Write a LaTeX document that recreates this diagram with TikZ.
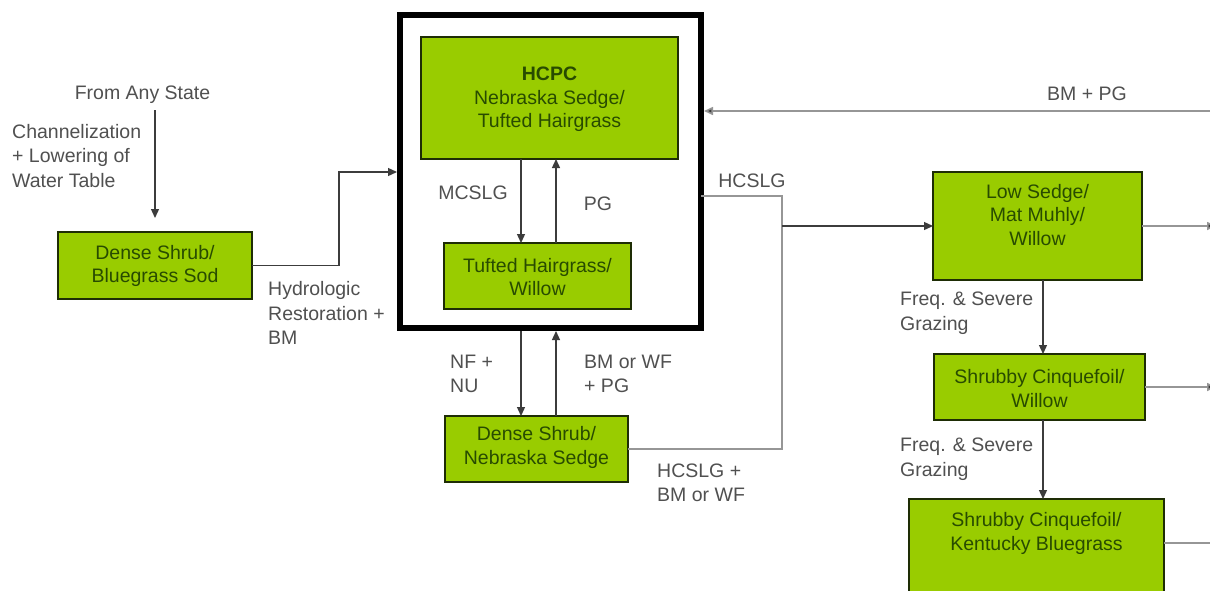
\documentclass[tikz,border=0pt]{standalone}
\usepackage{fontspec}
\setmainfont{Liberation Sans}
\usetikzlibrary{arrows.meta}
\definecolor{boxgreen}{RGB}{153,204,0}
\definecolor{boxline}{RGB}{30,45,5}
\definecolor{boxtext}{RGB}{40,75,0}
\definecolor{lblgray}{RGB}{80,80,80}
\definecolor{lightline}{RGB}{150,150,150}
\definecolor{darkline}{RGB}{60,60,60}
\tikzset{
  statebox/.style={draw=boxline, line width=2.4pt, fill=boxgreen, inner sep=0pt, outer sep=0pt},
  boxtxt/.style={text=boxtext, font=\fontsize{19.5}{23.5}\selectfont, align=center, inner sep=0pt},
  lbl/.style={text=lblgray, font=\fontsize{19.5}{24.5}\selectfont, align=left, inner sep=0pt},
  arr/.style={draw=darkline, line width=1.3pt, -{Triangle[length=9pt,width=8pt]}},
  gline/.style={draw=lightline, line width=1.6pt},
  garr/.style={draw=lightline, line width=1.6pt, -{Triangle[length=9pt,width=8pt,fill=darkline]}},
}
\begin{document}
\begin{tikzpicture}[x=1pt,y=-1pt]
\useasboundingbox (0,0) rectangle (1210,590);
\fill[white] (0,0) rectangle (1210,590);

% big frame
\node[draw=black, line width=6pt, minimum width=301pt, minimum height=313pt, inner sep=0pt, outer sep=0pt] (big) at (550.5,171.5) {};

% states
\node[statebox, minimum width=257pt, minimum height=122pt] (hcpc) at (549.5,98) {};
\node[boxtxt] (hcpct) at (549.5,99.5) {\textbf{HCPC}\\Nebraska Sedge/\\Tufted Hairgrass};
\node[statebox, minimum width=187pt, minimum height=66pt] (thw) at (537.5,276) {};
\node[boxtxt] (thwt) at (537.5,277) {Tufted Hairgrass/\\Willow};
\node[statebox, minimum width=194pt, minimum height=67pt] (dsb) at (155,265.5) {};
\node[boxtxt] (dsbt) at (155,266) {Dense Shrub/\\Bluegrass Sod};
\node[statebox, minimum width=183pt, minimum height=66pt] (dsn) at (536.5,449) {};
\node[boxtxt] (dsnt) at (536.5,447.5) {Dense Shrub/\\Nebraska Sedge};
\node[statebox, minimum width=209pt, minimum height=108pt] (ls) at (1037.5,226) {};
\node[boxtxt] (lst) at (1037.5,215) {Low Sedge/\\Mat Muhly/\\Willow};
\node[statebox, minimum width=211pt, minimum height=66pt] (scw) at (1039.5,387) {};
\node[boxtxt] (scwt) at (1039.5,388.5) {Shrubby Cinquefoil/\\Willow};
\node[statebox, minimum width=255pt, minimum height=122pt] (sck) at (1036.5,560) {};
\node[boxtxt] (sckt) at (1036.5,533.5) {Shrubby Cinquefoil/\\Kentucky Bluegrass};

% labels
\node[lbl] (fas) at (142.5,95) {From Any State};
\node[lbl, anchor=west] (chan) at (12,156) {Channelization\\+ Lowering of\\Water Table};
\node[lbl, anchor=west] (hydro) at (268,313) {Hydrologic\\Restoration +\\BM};
\node[lbl] (mcslg) at (473,193) {MCSLG};
\node[lbl] (pg) at (598,204) {PG};
\node[lbl] (hcslg) at (752,181) {HCSLG};
\node[lbl] (bmpg) at (1087,94) {BM + PG};
\node[lbl, anchor=west] (nfnu) at (450,374) {NF +\\NU};
\node[lbl, anchor=west] (bmwf) at (584,374) {BM or WF\\+ PG};
\node[lbl, anchor=west] (hcbm) at (657,483) {HCSLG +\\BM or WF};
\node[lbl, anchor=west] (fsg1) at (900,313) {Freq. \& Severe\\Grazing};
\node[lbl, anchor=west] (fsg2) at (900,459) {Freq. \& Severe\\Grazing};

% helper coordinates
\coordinate (xa) at (521,0);
\coordinate (xb) at (556,0);
\coordinate (xc) at (1043,0);
\coordinate (j1) at (339,172);
\coordinate (j2) at (782,196);
\coordinate (j3) at (782,449);
\coordinate (rt) at (1214,111);
\coordinate (redge) at (1216,0);
\coordinate (r3) at (1212,543);

% connectors
\draw[arr, shorten <=6pt, shorten >=14pt] (fas.south -| dsb.north) -- (dsb.north);
\draw[arr, shorten >=3pt] (dsb.east) -| (j1) -- (j1 -| big.west);
\draw[arr] (xa |- hcpc.south) -- (xa |- thw.north);
\draw[arr] (xb |- thw.north) -- (xb |- hcpc.south);
\draw[arr, shorten <=3pt] (xa |- big.south) -- (xa |- dsn.north);
\draw[arr, shorten >=3pt] (xb |- dsn.north) -- (xb |- big.south);
\draw[gline] (j2 -| big.east) -- (j2) -- (j3) -- (j3 -| dsn.east);
\draw[arr] (j2 |- ls.west) -- (ls.west);
\draw[garr, shorten >=3pt] (rt) -- (rt -| big.east);
\draw[arr] (xc |- ls.south) -- (xc |- scw.north);
\draw[arr] (xc |- scw.south) -- (xc |- sck.north);
\draw[garr] (ls.east) -- (ls.east -| redge);
\draw[garr] (scw.east) -- (scw.east -| redge);
\draw[gline] (r3 -| sck.east) -- (r3);
\end{tikzpicture}
\end{document}
